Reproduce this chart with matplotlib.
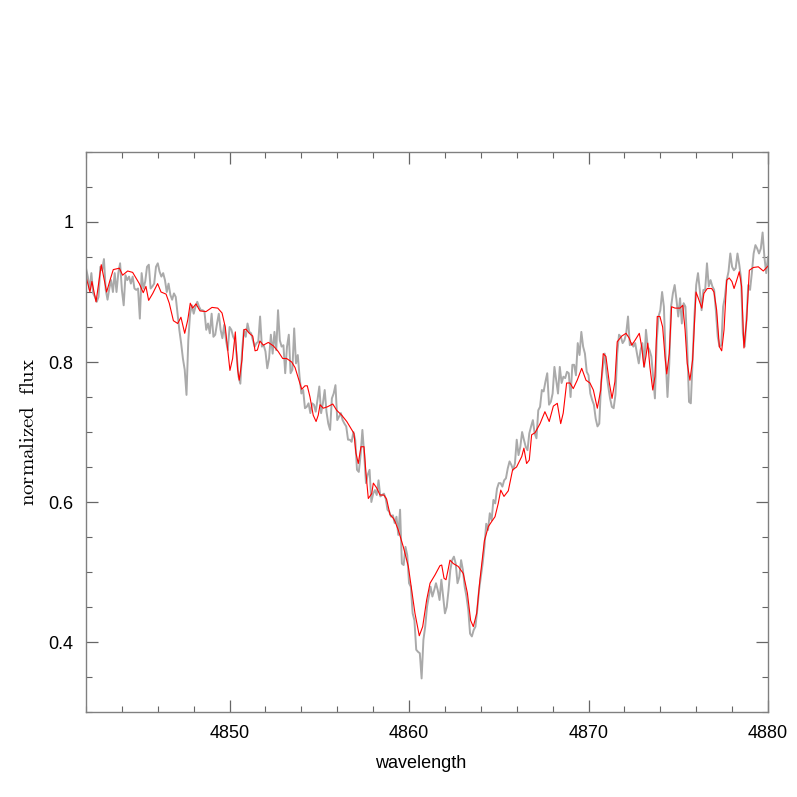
"""
H-beta region: observed spectrum vs model
"""

import numpy as np
import matplotlib
matplotlib.use("Agg")
import matplotlib.pyplot as plt
from matplotlib.ticker import MultipleLocator, FuncFormatter

# observed spectrum, sampled every 0.1 A from 4842.0 to 4880.0
obs_start = 4842.0
obs_step = 0.1
obs_flux = [
    0.934, 0.922, 0.903, 0.927, 0.898, 0.893, 0.886, 0.893, 0.936, 0.931,
    0.947, 0.903, 0.889, 0.905, 0.917, 0.900, 0.927, 0.900, 0.927, 0.941,
    0.903, 0.881, 0.924, 0.917, 0.922, 0.912, 0.922, 0.905, 0.903, 0.905,
    0.862, 0.927, 0.905, 0.915, 0.936, 0.939, 0.905, 0.908, 0.912, 0.936,
    0.941, 0.929, 0.922, 0.927, 0.917, 0.900, 0.912, 0.896, 0.889, 0.898,
    0.893, 0.869, 0.846, 0.827, 0.805, 0.789, 0.753, 0.831, 0.869, 0.881,
    0.869, 0.879, 0.886, 0.879, 0.874, 0.874, 0.872, 0.846, 0.855, 0.841,
    0.869, 0.836, 0.839, 0.855, 0.869, 0.846, 0.834, 0.853, 0.831, 0.817,
    0.850, 0.846, 0.836, 0.831, 0.808, 0.779, 0.769, 0.817, 0.846, 0.836,
    0.855, 0.843, 0.841, 0.831, 0.822, 0.827, 0.829, 0.865, 0.822, 0.824,
    0.815, 0.791, 0.805, 0.839, 0.812, 0.843, 0.817, 0.874, 0.831, 0.822,
    0.824, 0.784, 0.822, 0.839, 0.784, 0.789, 0.848, 0.798, 0.810, 0.779,
    0.755, 0.760, 0.734, 0.736, 0.741, 0.727, 0.741, 0.739, 0.729, 0.746,
    0.765, 0.727, 0.741, 0.760, 0.729, 0.712, 0.703, 0.748, 0.755, 0.767,
    0.717, 0.722, 0.727, 0.717, 0.712, 0.708, 0.689, 0.689, 0.686, 0.700,
    0.689, 0.646, 0.643, 0.667, 0.703, 0.669, 0.627, 0.639, 0.646, 0.600,
    0.612, 0.617, 0.610, 0.631, 0.608, 0.610, 0.612, 0.605, 0.589, 0.586,
    0.579, 0.581, 0.570, 0.579, 0.553, 0.589, 0.512, 0.510, 0.536, 0.524,
    0.484, 0.479, 0.441, 0.431, 0.389, 0.386, 0.384, 0.348, 0.403, 0.422,
    0.450, 0.465, 0.479, 0.465, 0.474, 0.484, 0.474, 0.460, 0.489, 0.465,
    0.441, 0.450, 0.474, 0.503, 0.517, 0.522, 0.512, 0.484, 0.493, 0.517,
    0.503, 0.479, 0.465, 0.446, 0.412, 0.408, 0.417, 0.422, 0.446, 0.474,
    0.493, 0.512, 0.536, 0.569, 0.560, 0.584, 0.574, 0.603, 0.598, 0.619,
    0.627, 0.627, 0.622, 0.631, 0.634, 0.648, 0.658, 0.653, 0.646, 0.655,
    0.689, 0.667, 0.679, 0.700, 0.689, 0.679, 0.674, 0.698, 0.708, 0.717,
    0.698, 0.691, 0.731, 0.736, 0.760, 0.758, 0.772, 0.784, 0.739, 0.743,
    0.755, 0.793, 0.774, 0.755, 0.793, 0.770, 0.779, 0.777, 0.786, 0.784,
    0.750, 0.796, 0.796, 0.781, 0.827, 0.810, 0.843, 0.822, 0.812, 0.786,
    0.781, 0.755, 0.746, 0.739, 0.719, 0.708, 0.712, 0.770, 0.793, 0.812,
    0.784, 0.765, 0.748, 0.736, 0.734, 0.753, 0.812, 0.839, 0.836, 0.827,
    0.831, 0.841, 0.865, 0.824, 0.827, 0.822, 0.827, 0.812, 0.798, 0.817,
    0.827, 0.793, 0.846, 0.822, 0.817, 0.808, 0.779, 0.748, 0.831, 0.865,
    0.874, 0.900, 0.879, 0.803, 0.750, 0.798, 0.879, 0.898, 0.910, 0.889,
    0.865, 0.891, 0.855, 0.884, 0.879, 0.822, 0.743, 0.741, 0.803, 0.865,
    0.910, 0.927, 0.903, 0.874, 0.903, 0.903, 0.941, 0.908, 0.917, 0.908,
    0.903, 0.872, 0.836, 0.822, 0.824, 0.879, 0.893, 0.917, 0.929, 0.955,
    0.936, 0.931, 0.934, 0.955, 0.939, 0.919, 0.841, 0.822, 0.860, 0.910,
    0.903, 0.927, 0.955, 0.967, 0.962, 0.955, 0.962, 0.985, 0.950, 0.927,
    0.950,
]

# synthetic (model) spectrum
model_wave = [
    4842.00, 4842.22, 4842.33, 4842.56, 4842.85, 4843.15, 4843.34, 4843.52,
    4843.86, 4844.04, 4844.32, 4844.60, 4844.97, 4845.19, 4845.34, 4845.49,
    4845.72, 4845.99, 4846.18, 4846.46, 4846.64, 4846.87, 4847.11, 4847.29,
    4847.50, 4847.67, 4847.81, 4847.94, 4848.13, 4848.35, 4848.69, 4849.02,
    4849.34, 4849.58, 4849.76, 4849.90, 4850.02, 4850.17, 4850.32, 4850.45,
    4850.54, 4850.69, 4850.80, 4850.91, 4851.10, 4851.29, 4851.42, 4851.55,
    4851.69, 4851.88, 4852.16, 4852.44, 4852.71, 4852.96, 4853.18, 4853.46,
    4853.65, 4853.83, 4854.02, 4854.20, 4854.33, 4854.48, 4854.66, 4854.82,
    4854.94, 4855.04, 4855.22, 4855.45, 4855.75, 4855.97, 4856.25, 4856.53,
    4856.93, 4857.04, 4857.17, 4857.32, 4857.49, 4857.60, 4857.73, 4857.92,
    4858.01, 4858.20, 4858.38, 4858.60, 4858.75, 4858.94, 4859.12, 4859.22,
    4859.40, 4859.68, 4859.96, 4860.15, 4860.33, 4860.57, 4860.76, 4860.98,
    4861.17, 4861.45, 4861.72, 4861.82, 4861.95, 4862.06, 4862.19, 4862.28,
    4862.47, 4862.74, 4863.02, 4863.25, 4863.43, 4863.58, 4863.77, 4863.95,
    4864.20, 4864.42, 4864.60, 4864.79, 4864.97, 4865.11, 4865.29, 4865.53,
    4865.77, 4865.99, 4866.28, 4866.40, 4866.55, 4866.70, 4866.83, 4867.02,
    4867.30, 4867.57, 4867.81, 4868.04, 4868.26, 4868.45, 4868.59, 4868.78,
    4868.97, 4869.15, 4869.37, 4869.62, 4869.86, 4870.08, 4870.27, 4870.49,
    4870.68, 4870.82, 4870.97, 4871.16, 4871.31, 4871.47, 4871.60, 4871.85,
    4872.09, 4872.27, 4872.41, 4872.59, 4872.83, 4872.96, 4873.09, 4873.20,
    4873.30, 4873.42, 4873.58, 4873.70, 4873.83, 4873.98, 4874.13, 4874.26,
    4874.36, 4874.50, 4874.63, 4874.82, 4875.10, 4875.25, 4875.38, 4875.50,
    4875.65, 4875.80, 4875.99, 4876.12, 4876.31, 4876.43, 4876.62, 4876.86,
    4876.99, 4877.14, 4877.29, 4877.42, 4877.55, 4877.70, 4877.84, 4877.99,
    4878.11, 4878.26, 4878.40, 4878.53, 4878.66, 4878.81, 4878.96, 4879.18,
    4879.46, 4879.74, 4880.00,
]
model_flux = [
    0.922, 0.900, 0.915, 0.886, 0.939, 0.900, 0.917, 0.932,
    0.934, 0.924, 0.930, 0.928, 0.912, 0.899, 0.908, 0.888,
    0.898, 0.912, 0.900, 0.897, 0.884, 0.859, 0.855, 0.864,
    0.841, 0.860, 0.884, 0.877, 0.883, 0.873, 0.872, 0.878,
    0.877, 0.870, 0.850, 0.817, 0.788, 0.805, 0.843, 0.789,
    0.774, 0.803, 0.846, 0.847, 0.841, 0.837, 0.816, 0.817,
    0.830, 0.824, 0.828, 0.823, 0.815, 0.805, 0.805, 0.800,
    0.792, 0.777, 0.761, 0.766, 0.766, 0.750, 0.724, 0.715,
    0.724, 0.739, 0.734, 0.736, 0.740, 0.731, 0.724, 0.715,
    0.698, 0.670, 0.655, 0.679, 0.679, 0.641, 0.605, 0.612,
    0.627, 0.620, 0.610, 0.610, 0.604, 0.582, 0.577, 0.572,
    0.560, 0.536, 0.508, 0.474, 0.441, 0.409, 0.422, 0.460,
    0.484, 0.496, 0.509, 0.510, 0.491, 0.489, 0.505, 0.517,
    0.512, 0.508, 0.498, 0.470, 0.431, 0.422, 0.441, 0.489,
    0.545, 0.565, 0.572, 0.579, 0.598, 0.617, 0.608, 0.616,
    0.646, 0.650, 0.665, 0.677, 0.655, 0.660, 0.696, 0.699,
    0.712, 0.729, 0.715, 0.737, 0.741, 0.712, 0.727, 0.770,
    0.770, 0.762, 0.774, 0.791, 0.774, 0.770, 0.760, 0.734,
    0.760, 0.812, 0.808, 0.770, 0.748, 0.772, 0.829, 0.837,
    0.841, 0.834, 0.824, 0.831, 0.841, 0.822, 0.793, 0.808,
    0.827, 0.793, 0.760, 0.779, 0.865, 0.865, 0.850, 0.808,
    0.783, 0.812, 0.879, 0.877, 0.877, 0.881, 0.846, 0.798,
    0.774, 0.803, 0.900, 0.891, 0.877, 0.898, 0.905, 0.905,
    0.900, 0.874, 0.822, 0.816, 0.846, 0.917, 0.920, 0.915,
    0.905, 0.917, 0.929, 0.908, 0.820, 0.860, 0.931, 0.935,
    0.936, 0.930, 0.937,
]

obs_wave = obs_start + obs_step * np.arange(len(obs_flux))

plt.rcParams['mathtext.fontset'] = 'cm'

fig = plt.figure(figsize=(7.97, 7.97), dpi=100)
ax = fig.add_axes([0.1079, 0.1066, 0.8557, 0.7027])

ax.plot(obs_wave, obs_flux, color='#aaaaaa', lw=1.4)
ax.plot(model_wave, model_flux, color='red', lw=0.8)

ax.set_xlim(4842, 4880)
ax.set_ylim(0.3, 1.1)

ax.xaxis.set_major_locator(MultipleLocator(10))
ax.xaxis.set_minor_locator(MultipleLocator(2))
ax.yaxis.set_major_locator(MultipleLocator(0.2))
ax.yaxis.set_minor_locator(MultipleLocator(0.05))
ax.yaxis.set_major_formatter(FuncFormatter(lambda v, p: '%g' % round(v, 2)))

ax.tick_params(which='both', direction='in', top=True, right=True,
               color='#666666', labelsize=13, pad=9)
ax.tick_params(which='major', length=8.5, width=0.9)
ax.tick_params(which='minor', length=4.5, width=0.8)
for lab in ax.get_xticklabels() + ax.get_yticklabels():
    lab.set_family('Liberation Sans')

for sp in ax.spines.values():
    sp.set_color('#808080')
    sp.set_linewidth(1.0)

ax.set_xlabel('wavelength', family='Liberation Sans', fontsize=13)
ax.xaxis.set_label_coords(0.491, -0.077)
ax.set_ylabel(r'$\mathrm{normalized\ \ flux}$', fontsize=15)
ax.yaxis.set_label_coords(-0.0705, 0.5)

fig.savefig('out.png', dpi=100)
